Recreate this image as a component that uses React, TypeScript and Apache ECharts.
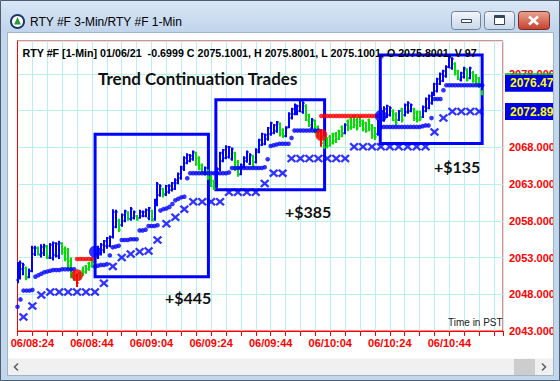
import { useEffect, useRef } from "react";
import * as echarts from "echarts";

// ---------- DATA ----------
// one bar per minute, first bar = 06/08:19 (index 0)
const firstBarTime = "08:19";
const xTickLabels = ["06/08:24", "06/08:44", "06/09:04", "06/09:24", "06/09:44", "06/10:04", "06/10:24", "06/10:44"];

// [open, high, low, close]
const bars: number[][] = [
  [2050.0, 2052.4, 2049.5, 2052.0], [2050.5, 2052.6, 2050.0, 2052.3], [2051.5, 2052.3, 2050.6, 2052.0], [2051.6, 2051.8, 2049.9, 2050.2],
  [2050.4, 2051.5, 2050.2, 2051.2], [2051.2, 2054.6, 2051.0, 2054.3], [2053.5, 2054.6, 2053.2, 2054.3], [2054.3, 2054.5, 2053.3, 2053.5],
  [2053.3, 2054.8, 2053.0, 2054.5], [2053.6, 2054.9, 2053.2, 2054.6], [2054.5, 2054.7, 2052.8, 2053.2], [2053.0, 2055.0, 2052.8, 2054.7],
  [2053.0, 2055.2, 2052.6, 2055.0], [2053.3, 2055.1, 2053.0, 2054.9], [2053.2, 2055.3, 2052.8, 2055.0], [2054.9, 2055.1, 2053.4, 2053.6],
  [2054.2, 2054.5, 2052.5, 2052.8], [2054.0, 2054.3, 2051.4, 2051.8], [2052.6, 2053.0, 2050.2, 2050.5], [2050.9, 2051.2, 2049.8, 2050.1],
  [2050.5, 2050.8, 2049.0, 2049.6], [2050.9, 2051.1, 2049.9, 2050.4], [2051.3, 2051.8, 2050.5, 2051.0], [2051.8, 2052.0, 2050.8, 2051.4],
  [2052.2, 2052.4, 2051.2, 2051.9], [2052.6, 2052.9, 2051.6, 2052.3], [2052.4, 2053.9, 2052.2, 2053.6], [2053.5, 2054.6, 2052.8, 2054.2],
  [2053.6, 2055.0, 2053.3, 2054.7], [2054.0, 2055.4, 2053.6, 2055.2], [2054.6, 2055.8, 2054.2, 2055.6], [2054.6, 2056.0, 2054.4, 2055.8],
  [2055.8, 2059.6, 2055.6, 2059.2], [2057.2, 2059.5, 2057.0, 2059.2], [2058.0, 2058.3, 2056.5, 2056.8], [2057.4, 2059.0, 2057.2, 2058.8],
  [2058.0, 2059.5, 2057.8, 2059.3], [2059.1, 2059.3, 2058.0, 2058.3], [2058.3, 2059.9, 2058.0, 2059.6], [2058.4, 2059.4, 2058.2, 2059.2],
  [2058.6, 2058.8, 2058.0, 2058.1], [2058.4, 2059.5, 2058.3, 2059.2], [2058.7, 2059.4, 2058.5, 2059.2], [2058.7, 2059.7, 2058.5, 2059.5],
  [2058.4, 2059.9, 2058.1, 2059.7], [2059.3, 2059.5, 2057.9, 2058.0], [2058.2, 2061.0, 2058.0, 2060.7], [2060.3, 2063.3, 2060.0, 2063.0],
  [2061.5, 2063.0, 2061.3, 2062.7], [2062.3, 2062.5, 2061.2, 2061.5], [2061.6, 2062.9, 2061.4, 2062.7], [2061.9, 2063.0, 2061.7, 2062.8],
  [2062.2, 2063.3, 2062.0, 2063.1], [2062.4, 2063.8, 2062.2, 2063.6], [2063.2, 2064.6, 2063.0, 2064.4], [2063.8, 2065.5, 2063.6, 2065.3],
  [2065.0, 2066.8, 2064.8, 2066.6], [2065.9, 2067.2, 2065.7, 2067.0], [2066.2, 2067.1, 2066.0, 2066.9], [2066.4, 2067.6, 2066.2, 2067.4],
  [2067.2, 2067.4, 2065.5, 2065.8], [2066.6, 2066.8, 2064.9, 2065.1], [2065.6, 2065.8, 2064.4, 2064.6], [2064.4, 2065.4, 2064.2, 2065.2],
  [2064.8, 2065.0, 2063.6, 2063.8], [2064.0, 2064.2, 2062.6, 2062.8], [2063.4, 2063.6, 2062.2, 2062.4], [2062.7, 2065.3, 2062.5, 2065.0],
  [2065.0, 2067.4, 2064.8, 2067.2], [2066.2, 2067.8, 2066.0, 2067.6], [2066.6, 2068.3, 2066.4, 2068.1], [2066.7, 2068.2, 2066.5, 2068.0],
  [2066.4, 2068.0, 2066.2, 2067.8], [2067.2, 2067.4, 2064.8, 2065.0], [2066.0, 2066.3, 2064.0, 2064.3], [2064.4, 2065.8, 2064.2, 2065.6],
  [2065.4, 2066.8, 2065.2, 2066.6], [2066.1, 2067.6, 2065.9, 2067.4], [2065.8, 2067.2, 2065.6, 2067.0], [2066.8, 2067.0, 2065.3, 2065.5],
  [2066.0, 2067.9, 2065.8, 2067.7], [2067.4, 2069.2, 2067.2, 2069.0], [2068.4, 2070.0, 2068.2, 2069.8], [2068.5, 2069.9, 2068.3, 2069.7],
  [2069.1, 2070.8, 2068.9, 2070.6], [2069.8, 2071.5, 2069.6, 2071.3], [2070.0, 2071.2, 2069.8, 2071.0], [2070.2, 2071.6, 2070.0, 2071.4],
  [2071.2, 2071.4, 2069.5, 2069.8], [2070.4, 2070.6, 2069.3, 2069.5], [2069.6, 2070.9, 2069.4, 2070.7], [2070.8, 2072.8, 2070.6, 2072.6],
  [2072.0, 2073.4, 2071.8, 2073.2], [2072.6, 2074.0, 2072.4, 2073.8], [2072.6, 2073.8, 2072.4, 2073.6], [2073.0, 2074.5, 2072.8, 2074.3],
  [2072.8, 2074.3, 2072.6, 2074.1], [2073.7, 2073.9, 2071.6, 2071.8], [2072.4, 2072.6, 2070.8, 2071.0], [2070.7, 2072.0, 2070.5, 2071.8],
  [2071.6, 2071.8, 2069.9, 2070.1], [2070.8, 2071.0, 2069.3, 2069.5], [2070.2, 2070.5, 2068.1, 2068.6], [2069.4, 2069.6, 2067.8, 2068.0],
  [2069.2, 2069.4, 2067.9, 2068.2], [2069.4, 2069.7, 2068.1, 2068.6], [2069.8, 2070.0, 2068.4, 2068.9], [2069.9, 2070.1, 2068.6, 2069.2],
  [2070.2, 2070.4, 2069.0, 2069.5], [2070.8, 2071.0, 2069.4, 2069.9], [2070.0, 2071.3, 2069.8, 2071.1], [2071.6, 2071.8, 2070.2, 2070.6],
  [2071.9, 2072.1, 2070.4, 2070.8], [2072.2, 2072.4, 2070.6, 2071.0], [2071.8, 2072.0, 2070.3, 2070.6], [2072.1, 2072.3, 2070.8, 2071.2],
  [2071.6, 2071.8, 2070.2, 2070.5], [2071.3, 2071.5, 2070.0, 2070.3], [2071.7, 2071.9, 2070.2, 2070.6], [2071.0, 2071.2, 2069.2, 2069.6],
  [2070.6, 2070.8, 2069.0, 2069.4], [2069.8, 2071.8, 2069.6, 2071.6], [2070.6, 2073.4, 2070.4, 2072.9], [2071.7, 2073.6, 2071.5, 2073.2],
  [2072.2, 2073.8, 2072.0, 2073.6], [2072.4, 2073.6, 2072.2, 2073.4], [2073.0, 2073.2, 2071.6, 2071.8], [2072.6, 2072.8, 2071.0, 2071.3],
  [2071.8, 2073.1, 2071.6, 2072.9], [2073.2, 2073.4, 2071.4, 2071.7], [2072.4, 2074.0, 2072.2, 2073.8], [2072.8, 2074.3, 2072.6, 2074.1],
  [2073.0, 2074.0, 2072.8, 2073.8], [2073.2, 2073.4, 2071.6, 2071.9], [2072.8, 2073.0, 2071.4, 2071.7], [2072.8, 2073.0, 2071.6, 2071.9],
  [2072.2, 2073.7, 2072.0, 2073.5], [2073.0, 2074.8, 2072.8, 2074.6], [2073.4, 2075.2, 2073.2, 2075.0], [2074.0, 2075.6, 2073.8, 2075.4],
  [2075.2, 2076.8, 2075.0, 2076.6], [2075.7, 2077.5, 2075.5, 2077.3], [2076.7, 2078.2, 2076.5, 2078.0], [2077.1, 2078.6, 2076.9, 2078.4],
  [2077.7, 2079.2, 2077.5, 2079.0], [2079.0, 2080.6, 2078.8, 2080.4], [2078.8, 2080.3, 2078.6, 2080.1], [2079.4, 2079.6, 2077.8, 2078.0],
  [2078.4, 2078.6, 2077.2, 2077.4], [2077.2, 2078.3, 2077.0, 2078.1], [2077.6, 2079.0, 2077.4, 2078.8], [2078.6, 2078.8, 2077.0, 2077.2],
  [2077.5, 2079.0, 2077.3, 2078.8], [2078.2, 2078.4, 2076.8, 2077.0], [2077.8, 2078.0, 2076.6, 2076.8], [2077.4, 2077.6, 2076.1, 2076.4],
  [2075.8, 2075.8, 2075.1, 2075.1],
];

// 1-min trailing stop dots (one per bar)
const trail: number[] = [
  2046.3, 2047.3, 2048.5, 2048.5, 2048.5, 2048.6, 2050.4, 2050.6, 2050.8, 2051.0,
  2051.1, 2051.2, 2051.3, 2051.3, 2051.3, 2051.4, 2051.4, 2051.4, 2051.4, 2051.4,
  2052.8, 2052.8, 2052.8, 2052.8, 2052.8, 2052.8, 2051.8, 2051.9, 2052.0, 2052.0,
  2052.1, 2053.3, 2054.4, 2054.5, 2054.6, 2055.4, 2055.4, 2055.4, 2055.5, 2055.5,
  2055.5, 2056.7, 2056.7, 2056.8, 2057.3, 2057.3, 2057.3, 2057.4, 2059.4, 2059.6,
  2059.7, 2059.9, 2060.3, 2060.8, 2061.0, 2061.2, 2061.3, 2063.8, 2064.5, 2064.5,
  2064.5, 2064.5, 2064.5, 2064.5, 2064.5, 2064.5, 2064.5, 2064.5, 2064.5, 2064.5,
  2064.5, 2064.6, 2065.2, 2065.2, 2065.2, 2065.2, 2065.2, 2065.2, 2065.2, 2065.2,
  2065.2, 2065.2, 2065.2, 2065.3, 2066.4, 2068.2, 2068.3, 2068.4, 2068.5, 2068.5,
  2068.5, 2068.5, 2069.3, 2070.3, 2070.3, 2070.3, 2070.3, 2070.3, 2070.3, 2070.3,
  2070.3, 2070.3, 2072.3, 2072.3, 2072.3, 2072.3, 2072.3, 2072.3, 2072.3, 2072.3,
  2072.3, 2072.3, 2072.3, 2072.3, 2072.3, 2072.3, 2072.3, 2072.3, 2072.3, 2072.3,
  2072.3, 2072.3, 2070.8, 2070.8, 2070.8, 2070.8, 2070.8, 2070.8, 2070.8, 2070.8,
  2070.8, 2070.8, 2070.8, 2070.8, 2070.8, 2070.8, 2070.9, 2071.0, 2071.0, 2072.0,
  2074.6, 2074.6, 2074.6, 2075.8, 2076.47, 2076.47, 2076.47, 2076.47, 2076.47, 2076.47,
  2076.47, 2076.47, 2076.47, 2076.47, 2076.47, 2076.47, 2076.47,
];

// 3-min stop (X markers), one every 3 bars starting at bar index 2
const stopStart = 2;
const stopStep = 3;
const stopX: number[] = [
  2044.9, 2046.4, 2047.9, 2048.3, 2048.3, 2048.3, 2048.3, 2048.3, 2048.3, 2049.5,
  2051.8, 2053.0, 2053.5, 2053.8, 2053.9, 2055.4, 2057.6, 2058.5, 2059.6, 2060.6,
  2060.6, 2060.6, 2060.6, 2061.9, 2061.9, 2061.9, 2061.9, 2063.1, 2064.5, 2064.5,
  2066.5, 2066.5, 2066.5, 2066.5, 2066.5, 2066.5, 2066.5, 2068.1, 2068.1, 2068.1,
  2068.1, 2068.1, 2068.1, 2068.1, 2068.1, 2068.1, 2070.1, 2072.0, 2072.89, 2072.89,
  2072.89, 2072.89,
];

const signals = [
  { kind: "sell", idx: 20, price: 2050.6 },
  { kind: "buy", idx: 26, price: 2053.8 },
  { kind: "sell", idx: 102, price: 2069.7 },
  { kind: "buy", idx: 122, price: 2072.3 },
];

const tradeBoxes = [
  { from: 26.05, to: 64.1, high: 2069.8, low: 2050.4 },
  { from: 66.6, to: 103.1, high: 2074.5, low: 2062.25 },
  { from: 121.8, to: 156.0, high: 2080.6, low: 2068.55 },
];
const profits = ["+$445", "+$385", "+$135"];
const lastValues = [2076.47, 2072.89];

const windowTitle = "RTY #F 3-Min/RTY #F 1-Min";
const header = "RTY #F [1-Min] 01/06/21  -0.6999 C 2075.1001, H 2075.8001, L 2075.1001, O 2075.8001, V 97";
const chartTitle = "Trend Continuation Trades";
const tzNote = "Time in PST";

const yMin = 2043;
const yMax = 2082.5;
const xMax = 163;

// ---------- STYLE ----------
const BLUE = "#0000ff";
const GREEN = "#00e000";
const RED = "#ff0000";
const GRID = "#b8f0f0";
const FRAME = "#c2d6ec";

const inRed = (i: number) =>
  signals.some((s, k) => s.kind === "sell" && i >= s.idx && i < (signals[k + 1] ? signals[k + 1].idx : Infinity));
const sellIdx = signals.filter((s) => s.kind === "sell").map((s) => s.idx);

const xPath = "path://M0,1.8L1.8,0L5,3.2L8.2,0L10,1.8L6.8,5L10,8.2L8.2,10L5,6.8L1.8,10L0,8.2L3.2,5Z";

const grad = (a: string, b: string) =>
  new echarts.graphic.LinearGradient(0, 0, 0, 1, [
    { offset: 0, color: a },
    { offset: 1, color: b },
  ]);

function baseGraphic(): any[] {
  return [
    // annotations inside the plot
    { id: "hdr", type: "text", x: 22.5, y: 52.5, z: 50, style: { text: header, fill: "#000", font: 'bold 10.7px "Liberation Sans", Arial', verticalAlign: "middle" } },
    { id: "ttl", type: "text", x: 98, y: 78.5, z: 50, style: { text: chartTitle, fill: "#111", font: 'bold 17px Lato, "Noto Sans"', verticalAlign: "middle" } },
    { id: "p0", type: "text", x: 165, y: 297.5, z: 50, style: { text: profits[0], fill: "#111", font: 'bold 16px Lato, "Noto Sans"', verticalAlign: "middle" } },
    { id: "p1", type: "text", x: 285, y: 211, z: 50, style: { text: profits[1], fill: "#111", font: 'bold 16px Lato, "Noto Sans"', verticalAlign: "middle" } },
    { id: "p2", type: "text", x: 434, y: 166, z: 50, style: { text: profits[2], fill: "#111", font: 'bold 16px Lato, "Noto Sans"', verticalAlign: "middle" } },
    { id: "tz", type: "text", x: 448, y: 322, z: 50, style: { text: tzNote, fill: "#222", font: '10px "Liberation Sans", Arial', verticalAlign: "middle" } },

    // window chrome
    { id: "tb", type: "rect", z: 100, shape: { x: 0, y: 0, width: 560, height: 33 }, style: { fill: grad("#dae7f5", "#bfd4eb") } },
    { id: "fl", type: "rect", z: 100, shape: { x: 0, y: 33, width: 8, height: 348 }, style: { fill: FRAME } },
    { id: "fr", type: "rect", z: 100, shape: { x: 553, y: 33, width: 7, height: 348 }, style: { fill: FRAME } },
    { id: "fb", type: "rect", z: 100, shape: { x: 0, y: 375.5, width: 560, height: 6 }, style: { fill: FRAME } },
    { id: "sb", type: "rect", z: 100, shape: { x: 8, y: 358.5, width: 545, height: 17 }, style: { fill: "#f0f0f0" } },
    { id: "st", type: "rect", z: 101, shape: { x: 514, y: 359, width: 21, height: 16 }, style: { fill: "#cdcdcd" } },
    { id: "al", type: "polyline", z: 101, shape: { points: [[18, 363.5], [14.5, 367], [18, 370.5]] }, style: { stroke: "#606060", lineWidth: 1.6, fill: "none" } },
    { id: "ar", type: "polyline", z: 101, shape: { points: [[542, 363.5], [545.5, 367], [542, 370.5]] }, style: { stroke: "#606060", lineWidth: 1.6, fill: "none" } },
    { id: "cb", type: "rect", z: 101, shape: { x: 7.5, y: 32.5, width: 546, height: 343 }, style: { fill: "none", stroke: "#9fb3cb", lineWidth: 1 } },
    { id: "ob", type: "rect", z: 102, shape: { x: 0.5, y: 0.5, width: 559, height: 380 }, style: { fill: "none", stroke: "#4f5d6e", lineWidth: 1 } },
    // icon
    { id: "ic1", type: "circle", z: 102, shape: { cx: 17.5, cy: 21.5, r: 7.5 }, style: { fill: "#1b3768" } },
    { id: "ic2", type: "circle", z: 103, shape: { cx: 17.5, cy: 21.5, r: 5.5 }, style: { fill: "#ffffff" } },
    { id: "ic3", type: "polygon", z: 104, shape: { points: [[17.5, 17], [21, 24.5], [14, 24.5]] }, style: { fill: "#2a9a3a" } },
    { id: "wt", type: "text", z: 102, x: 30, y: 21.5, style: { text: windowTitle, fill: "#000", font: '12px "Liberation Sans", Arial', verticalAlign: "middle" } },
    // buttons
    { id: "b1", type: "rect", z: 102, shape: { x: 451.5, y: 11.5, width: 29, height: 18, r: 3 }, style: { fill: grad("#f3f6fb", "#c9d7e8"), stroke: "#6f8298", lineWidth: 1 } },
    { id: "b1i", type: "rect", z: 103, shape: { x: 461.5, y: 19.5, width: 10, height: 3 }, style: { fill: "#ffffff", stroke: "#34465c", lineWidth: 1 } },
    { id: "b2", type: "rect", z: 102, shape: { x: 484.5, y: 11.5, width: 30, height: 18, r: 3 }, style: { fill: grad("#f3f6fb", "#c9d7e8"), stroke: "#6f8298", lineWidth: 1 } },
    { id: "b2i", type: "rect", z: 103, shape: { x: 494.5, y: 15.5, width: 10, height: 9 }, style: { fill: "#ffffff", stroke: "#34465c", lineWidth: 1 } },
    { id: "b2t", type: "rect", z: 104, shape: { x: 494.5, y: 15.5, width: 10, height: 2.5 }, style: { fill: "#34465c" } },
    { id: "b3", type: "rect", z: 102, shape: { x: 518.5, y: 11.5, width: 31, height: 18, r: 3 }, style: { fill: grad("#e9a493", "#c4402b"), stroke: "#7a2c22", lineWidth: 1 } },
    { id: "b3a", type: "line", z: 103, shape: { x1: 529, y1: 16.5, x2: 538, y2: 24.5 }, style: { stroke: "#ffffff", lineWidth: 2.6 } },
    { id: "b3b", type: "line", z: 103, shape: { x1: 538, y1: 16.5, x2: 529, y2: 24.5 }, style: { stroke: "#ffffff", lineWidth: 2.6 } },
  ];
}

function buildOption() {
  const barData = bars.map((b, i) => [i, b[0], b[1], b[2], b[3]]);
  const trailBlue: number[][] = [];
  const trailRed: number[][] = [];
  trail.forEach((v, i) => (inRed(i) ? trailRed : trailBlue).push([i, v]));
  const xData = stopX.map((v, k) => [stopStart + k * stopStep, v]);

  return {
    animation: false,
    backgroundColor: "#ffffff",
    grid: { left: 17.5, right: 57, top: 41, bottom: 50, show: true, borderColor: RED, borderWidth: 1, backgroundColor: "transparent" },
    xAxis: {
      type: "value",
      min: 0,
      max: xMax,
      interval: 5,
      axisLine: { show: true, lineStyle: { color: RED } },
      axisTick: { show: true, length: 5, lineStyle: { color: RED } },
      splitLine: { show: true, lineStyle: { color: GRID, width: 1 } },
      axisLabel: {
        color: RED,
        fontWeight: "bold",
        fontSize: 11,
        fontFamily: '"Liberation Sans", Arial',
        margin: 6,
        formatter: (v: number) => {
          const k = (v - 5) / 20;
          return Number.isInteger(k) && k >= 0 && k < xTickLabels.length ? xTickLabels[k] : "";
        },
      },
    },
    yAxis: {
      type: "value",
      position: "right",
      min: yMin,
      max: yMax,
      interval: 5,
      axisLine: { show: true, lineStyle: { color: RED } },
      axisTick: { show: false },
      splitLine: { show: true, lineStyle: { color: GRID, width: 1 } },
      axisLabel: {
        color: RED,
        fontWeight: "bold",
        fontSize: 11,
        fontFamily: '"Liberation Sans", Arial',
        margin: 6,
        showMaxLabel: false,
        // labels hidden under a last-value tag are not shown (as in the reference)
        formatter: (v: number) => (v >= yMax || lastValues.some((t) => Math.abs(t - v) < 1) ? "" : v.toFixed(3)),
      },
    },
    series: [
      {
        type: "custom",
        name: "bars",
        z: 2,
        encode: { x: 0, y: [1, 2, 3, 4] },
        data: barData,
        renderItem: (_p: any, api: any) => {
          const i = api.value(0);
          const o = api.value(1), h = api.value(2), l = api.value(3), c = api.value(4);
          const pH = api.coord([i, h]);
          const pL = api.coord([i, l]);
          const pO = api.coord([i, o]);
          const pC = api.coord([i, c]);
          const cx = Math.round(pH[0]);
          const color = sellIdx.includes(i) ? RED : c < o ? GREEN : BLUE;
          return {
            type: "group",
            children: [
              { type: "rect", shape: { x: cx - 1, y: pH[1], width: 2, height: Math.max(1, pL[1] - pH[1]) }, style: { fill: color } },
              { type: "rect", shape: { x: cx - 2, y: Math.round(pO[1]) - 0.5, width: 1, height: 1 }, style: { fill: color } },
              { type: "rect", shape: { x: cx + 1, y: Math.round(pC[1]) - 0.5, width: 1, height: 1 }, style: { fill: color } },
            ],
          };
        },
      },
      { type: "scatter", name: "trail", z: 3, symbol: "circle", symbolSize: 4.6, itemStyle: { color: BLUE }, data: trailBlue, silent: true },
      { type: "scatter", name: "trailRed", z: 3, symbol: "circle", symbolSize: 4.6, itemStyle: { color: RED }, data: trailRed, silent: true },
      { type: "scatter", name: "stop3", z: 3, symbol: xPath, symbolSize: [9.5, 8.5], itemStyle: { color: BLUE }, data: xData, silent: true },
      {
        type: "scatter",
        name: "annotations",
        z: 4,
        data: [],
        silent: true,
        markArea: {
          silent: true,
          itemStyle: { color: "rgba(0,0,0,0)", borderColor: BLUE, borderWidth: 3 },
          label: { show: false },
          data: tradeBoxes.map((b) => [{ coord: [b.from, b.high] }, { coord: [b.to, b.low] }]),
        },
      },
      {
        type: "scatter",
        name: "sellSignal",
        z: 5,
        symbol: "circle",
        symbolSize: 12,
        itemStyle: { color: RED },
        data: signals.filter((s) => s.kind === "sell").map((s) => [s.idx, s.price]),
        silent: true,
      },
      {
        type: "scatter",
        name: "buySignal",
        z: 5,
        symbol: "circle",
        symbolSize: 12,
        itemStyle: { color: BLUE },
        data: signals.filter((s) => s.kind === "buy").map((s) => [s.idx, s.price]),
        silent: true,
      },
    ],
    graphic: baseGraphic(),
  };
}

export default function App() {
  const ref = useRef<HTMLDivElement>(null);
  useEffect(() => {
    const chart = echarts.init(ref.current as HTMLDivElement, null, { renderer: "svg" });
    chart.setOption(buildOption() as any);
    // last-value tags on the price axis, placed through the y scale
    const tags: any[] = [];
    lastValues.forEach((v, k) => {
      const p = chart.convertToPixel({ gridIndex: 0 }, [0, v]) as number[];
      const y = p[1] - (k === 0 ? 2 : 0);
      tags.push({ id: "tagbg" + k, type: "rect", z: 60, shape: { x: 505, y: y - 8.5, width: 50, height: 17 }, style: { fill: "#0000e6" } });
      tags.push({ id: "tagtx" + k, type: "text", z: 61, x: 510, y: y, style: { text: v.toFixed(2), fill: "#ffff00", font: 'bold 12px "Liberation Sans", Arial', verticalAlign: "middle" } });
      if (k === 0) tags.push({ id: "tagln", type: "rect", z: 60, shape: { x: 505, y: y - 10, width: 50, height: 1.5 }, style: { fill: "#00c000" } });
    });
    chart.setOption({ graphic: [...baseGraphic(), ...tags] } as any);
    return () => chart.dispose();
  }, []);
  return <div ref={ref} data-first-bar={firstBarTime} style={{ position: "fixed", left: 0, top: 0, width: 560, height: 381 }} />;
}
